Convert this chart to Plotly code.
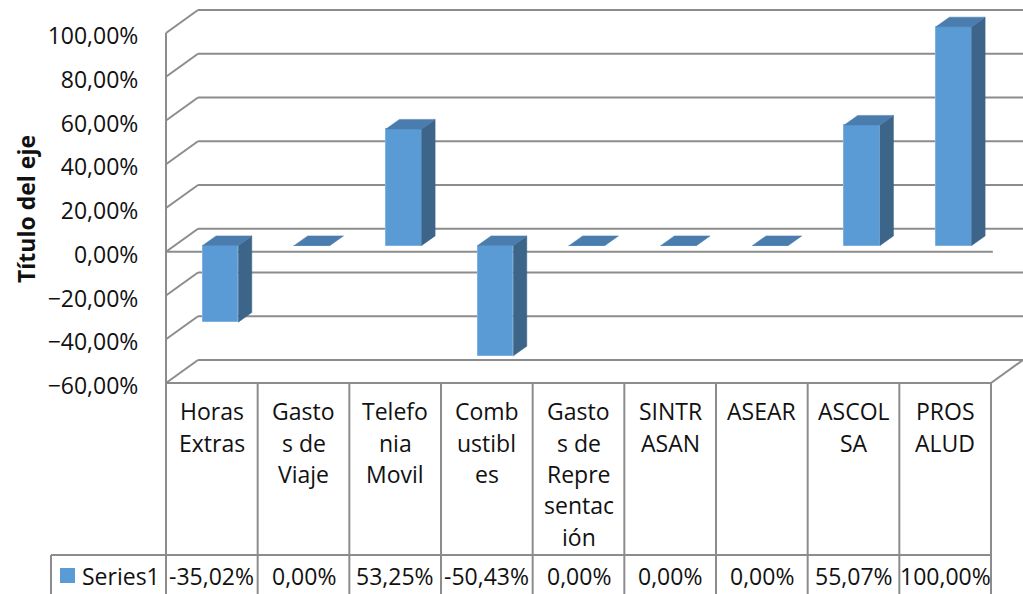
import plotly.graph_objects as go

# ---------------- data ----------------
categories = ["Horas Extras", "Gastos de Viaje", "Telefonia Movil", "Combustibles",
              "Gastos de Representación", "SINTRASAN", "ASEAR", "ASCOLSA", "PROSALUD"]
label_lines = [["Horas", "Extras"], ["Gasto", "s de", "Viaje"], ["Telefo", "nia", "Movil"],
               ["Comb", "ustibl", "es"], ["Gasto", "s de", "Repre", "sentac", "ión"],
               ["SINTR", "ASAN"], ["ASEAR"], ["ASCOL", "SA"], ["PROS", "ALUD"]]
values = [-0.3502, 0.0, 0.5325, -0.5043, 0.0, 0.0, 0.0, 0.5507, 1.0]
series_name = "Series1"
y_ticks = [-0.6, -0.4, -0.2, 0.0, 0.2, 0.4, 0.6, 0.8, 1.0]
axis_title = "Título del eje"

# ---------------- geometry ----------------
W, H = 1023, 594
X0PX = 166.0                 # front-left edge (px)
CW = (991.0 - 166.0) / 9     # px per category
Y0PX = 383.0                 # px of lowest tick at front
YS = 218.75                  # px per unit (1.0 = 100%)
ML, MB = 150, 190
PW, PH = W - ML, H - MB
YMIN = y_ticks[0]
xr = [(ML - X0PX) / CW, (W - X0PX) / CW]
yr = [YMIN - (PH - Y0PX) / YS, YMIN + Y0PX / YS]
DX = 32.0 / CW               # depth offset in x units
DY = 23.0 / YS               # depth offset in y units
F0, F1 = 0.27, 0.69          # bar depth span (fraction of depth)
BW = 0.39                    # bar width (category units)
N = len(categories)

FRONT = "#5B9BD5"
TOP = "#4A7CAE"
SIDE = "#3C6589"
GRID = "#8C8C8C"
TXT = "#111111"
FONT = "Open Sans"


def dpx_x(x):
    return X0PX + x * CW


def px_x(px):
    return (px - ML) / PW


def px_y(py):
    return (PH - py) / PH


shapes = []


def line(x0, y0, x1, y1, xref="x", yref="y", color=GRID, width=2):
    shapes.append(dict(type="line", x0=x0, y0=y0, x1=x1, y1=y1, xref=xref, yref=yref,
                       line=dict(color=color, width=width), layer="below"))


# walls / gridlines
for v in y_ticks:
    line(0, v, DX, v + DY)
    line(DX, v + DY, N + DX, v + DY)
# front 0 axis line
line(0, 0, N + 0.02, 0)
# floor front (table top) and right diagonal
line(0, YMIN, N, YMIN)
line(N, YMIN, N + DX, YMIN + DY)
# front-left vertical edge through table
top_px = Y0PX - (y_ticks[-1] - YMIN) * YS
line(px_x(dpx_x(0)), px_y(top_px), px_x(dpx_x(0)), px_y(H), "paper", "paper")
# table verticals
for i in range(1, N + 1):
    line(px_x(dpx_x(i)), px_y(Y0PX), px_x(dpx_x(i)), px_y(H), "paper", "paper")
# value row top line
ROW_PX = 555
LEG_L = 51
line(px_x(LEG_L), px_y(ROW_PX), px_x(dpx_x(N)), px_y(ROW_PX), "paper", "paper")
line(px_x(LEG_L), px_y(ROW_PX), px_x(LEG_L), px_y(H), "paper", "paper")
# legend key square
shapes.append(dict(type="rect", xref="paper", yref="paper",
                   x0=px_x(60), x1=px_x(75), y0=px_y(583), y1=px_y(568),
                   fillcolor=FRONT, line=dict(width=0)))

# ---------------- traces ----------------
fig = go.Figure()

xc = [i + 0.5 for i in range(N)]
fig.add_trace(go.Bar(x=[c + F0 * DX for c in xc], y=values, base=F0 * DY, width=BW,
                     marker=dict(color=FRONT, line=dict(color="#7DB2E0", width=1)),
                     name=series_name, showlegend=False, hoverinfo="skip"))

tx, ty, sx, sy = [], [], [], []
for c, v in zip(xc, values):
    xl, xrr = c - BW / 2, c + BW / 2
    t, b = max(v, 0), min(v, 0)
    tx += [xl + F0 * DX, xrr + F0 * DX, xrr + F1 * DX, xl + F1 * DX, xl + F0 * DX, None]
    ty += [t + F0 * DY, t + F0 * DY, t + F1 * DY, t + F1 * DY, t + F0 * DY, None]
    if v != 0:
        sx += [xrr + F0 * DX, xrr + F0 * DX, xrr + F1 * DX, xrr + F1 * DX, xrr + F0 * DX, None]
        sy += [b + F0 * DY, t + F0 * DY, t + F1 * DY, b + F1 * DY, b + F0 * DY, None]

fig.add_trace(go.Scatter(x=sx, y=sy, fill="toself", fillcolor=SIDE, mode="lines",
                         line=dict(color=SIDE, width=0.5), showlegend=False, hoverinfo="skip"))
fig.add_trace(go.Scatter(x=tx, y=ty, fill="toself", fillcolor=TOP, mode="lines",
                         line=dict(color=TOP, width=0.5), showlegend=False, hoverinfo="skip"))

# ---------------- annotations ----------------
ann = []
LINE0, LSTEP = 411, 31.5
for i, lines in enumerate(label_lines):
    for k, s in enumerate(lines):
        ann.append(dict(x=xc[i], y=px_y(LINE0 + k * LSTEP), xref="x", yref="paper",
                        text=s, showarrow=False, font=dict(family=FONT, size=23, color=TXT),
                        xanchor="center", yanchor="middle"))
for i, v in enumerate(values):
    s = f"{v * 100:.2f}%".replace(".", ",")
    ann.append(dict(x=xc[i], y=px_y(576), xref="x", yref="paper", text=s, showarrow=False,
                    font=dict(family=FONT, size=23, color=TXT), xanchor="center", yanchor="middle"))
ann.append(dict(x=px_x(80), y=px_y(576), xref="paper", yref="paper", text=series_name,
                showarrow=False, font=dict(family=FONT, size=23, color=TXT),
                xanchor="left", yanchor="middle"))
ann.append(dict(x=px_x(26), y=px_y(209), xref="paper", yref="paper", text="<b>" + axis_title + "</b>",
                showarrow=False, textangle=-90, font=dict(family=FONT, size=23, color=TXT),
                xanchor="center", yanchor="middle"))

fig.update_layout(
    width=W, height=H, margin=dict(l=ML, r=0, t=0, b=MB),
    paper_bgcolor="white", plot_bgcolor="white",
    separators=",.",
    showlegend=False,
    xaxis=dict(range=xr, visible=False, fixedrange=True),
    yaxis=dict(range=yr, tickvals=y_ticks, tickformat=".2%", showgrid=False, zeroline=False,
               showline=False, ticks="outside", ticklen=6, tickcolor="rgba(0,0,0,0)",
               ticklabelshift=3,
               tickfont=dict(family=FONT, size=23, color=TXT), fixedrange=True),
    shapes=shapes, annotations=ann, bargap=0,
)

fig.write_html("out.html", config={"displayModeBar": False},
               post_script="document.body.style.margin='0';document.body.style.overflow='hidden';")
